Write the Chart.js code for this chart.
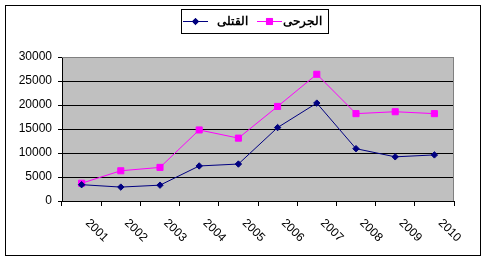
<!DOCTYPE html>
<html>
<head>
    <title>Killed and Injured 2001-2010</title>
    <style>
        body {
            margin: 0;
            background: #fff;
        }
        #chartBox {
            width: 487px;
            height: 262px;
        }
    </style>
</head>
<body>
    <div id="chartBox"><canvas id="lineGraph" width="487" height="262"></canvas></div>
    <script src="https://cdn.jsdelivr.net/npm/chart.js"></script>
    <script>
        const years = ['2001', '2002', '2003', '2004', '2005', '2006', '2007', '2008', '2009', '2010'];
        const killed = [3400, 2900, 3300, 7300, 7700, 15300, 20400, 10900, 9200, 9600];
        const injured = [3700, 6300, 7000, 14800, 13100, 19700, 26400, 18200, 18600, 18200];
        const seriesNames = ['القتلى', 'الجرحى'];
        const yMin = 0;
        const yMax = 30000;
        const yStep = 5000;

        const font = 'Arial, "Liberation Sans", sans-serif';

        // grey plot area, outer frame, legend box and slanted year labels
        const excelLook = {
            id: 'excelLook',
            beforeDraw(chart) {
                const ctx = chart.ctx;
                const a = chart.chartArea;
                ctx.save();
                ctx.fillStyle = '#c0c0c0';
                ctx.fillRect(a.left, a.top, a.right - a.left, a.bottom - a.top);
                ctx.restore();
            },
            beforeDatasetsDraw(chart) {
                const ctx = chart.ctx;
                const a = chart.chartArea;
                ctx.save();
                ctx.strokeStyle = '#808080';
                ctx.lineWidth = 1;
                ctx.beginPath();
                ctx.moveTo(a.left, Math.round(a.top) + 0.5);
                ctx.lineTo(Math.round(a.right) - 0.5, Math.round(a.top) + 0.5);
                ctx.lineTo(Math.round(a.right) - 0.5, a.bottom);
                ctx.stroke();
                ctx.restore();
            },
            afterDraw(chart) {
                const ctx = chart.ctx;
                const xScale = chart.scales.x;
                ctx.save();

                // outer frame
                ctx.strokeStyle = '#000';
                ctx.lineWidth = 1;
                ctx.strokeRect(5.5, 5.5, 475, 250);

                // year labels, turned down to the right
                ctx.fillStyle = '#000';
                ctx.font = '12px ' + font;
                ctx.textAlign = 'left';
                ctx.textBaseline = 'alphabetic';
                years.forEach((label, i) => {
                    const px = xScale.getPixelForValue(i);
                    ctx.save();
                    ctx.translate(px + 3.3, 223.4);
                    ctx.rotate(Math.PI / 4);
                    ctx.fillText(label, 0, 0);
                    ctx.restore();
                });

                // legend
                ctx.strokeRect(181.5, 9.5, 147, 24);
                const ly = 21.5;
                const items = [
                    { x0: 183, x1: 208, tx: 232, ds: chart.data.datasets[0] },
                    { x0: 257, x1: 282, tx: 302, ds: chart.data.datasets[1] }
                ];
                ctx.font = 'bold 12px ' + font;
                ctx.textAlign = 'center';
                ctx.textBaseline = 'middle';
                items.forEach(it => {
                    ctx.strokeStyle = it.ds.borderColor;
                    ctx.beginPath();
                    ctx.moveTo(it.x0, ly);
                    ctx.lineTo(it.x1, ly);
                    ctx.stroke();
                    Chart.helpers.drawPoint(ctx, {
                        pointStyle: it.ds.pointStyle,
                        radius: it.ds.pointRadius,
                        rotation: 0,
                        borderWidth: 1
                    }, (it.x0 + it.x1) / 2, ly);
                    ctx.fillStyle = it.ds.pointBackgroundColor;
                    ctx.fill();
                    ctx.fillStyle = '#000';
                    ctx.fillText(it.ds.label, it.tx, ly);
                });
                ctx.restore();
            }
        };

        new Chart(document.getElementById('lineGraph'), {
            type: 'line',
            data: {
                labels: years,
                datasets: [{
                    label: seriesNames[0],
                    data: killed,
                    borderColor: '#000080',
                    backgroundColor: '#000080',
                    pointBackgroundColor: '#000080',
                    pointBorderColor: '#000080',
                    pointStyle: 'rectRot',
                    pointRadius: 3.2,
                    pointBorderWidth: 1,
                    borderWidth: 1,
                    tension: 0
                }, {
                    label: seriesNames[1],
                    data: injured,
                    borderColor: '#ff00ff',
                    backgroundColor: '#ff00ff',
                    pointBackgroundColor: '#ff00ff',
                    pointBorderColor: '#ff00ff',
                    pointStyle: 'rect',
                    pointRadius: 4.3,
                    pointBorderWidth: 1,
                    borderWidth: 1,
                    tension: 0
                }]
            },
            options: {
                responsive: false,
                animation: false,
                layout: {
                    padding: { top: 57, left: 5, right: 33, bottom: 0 }
                },
                plugins: {
                    legend: { display: false },
                    tooltip: { enabled: false }
                },
                elements: {
                    point: { hoverRadius: 4 }
                },
                scales: {
                    x: {
                        offset: true,
                        grid: {
                            offset: true,
                            drawOnChartArea: false,
                            drawTicks: true,
                            tickLength: 5,
                            color: '#000'
                        },
                        border: { color: '#000', width: 1 },
                        ticks: { display: false },
                        afterFit(scale) {
                            scale.height = 61;
                        }
                    },
                    y: {
                        min: yMin,
                        max: yMax,
                        grid: {
                            color: c => c.tick && c.tick.value === yMax ? '#808080' : '#000',
                            tickColor: '#000',
                            tickLength: 4,
                            lineWidth: 1
                        },
                        border: { color: '#000', width: 1 },
                        ticks: {
                            stepSize: yStep,
                            color: '#000',
                            padding: 6,
                            font: { family: font, size: 12 },
                            callback: value => String(value)
                        },
                        afterFit(scale) {
                            scale.width = 57;
                        }
                    }
                }
            },
            plugins: [excelLook]
        });
    </script>
</body>
</html>
